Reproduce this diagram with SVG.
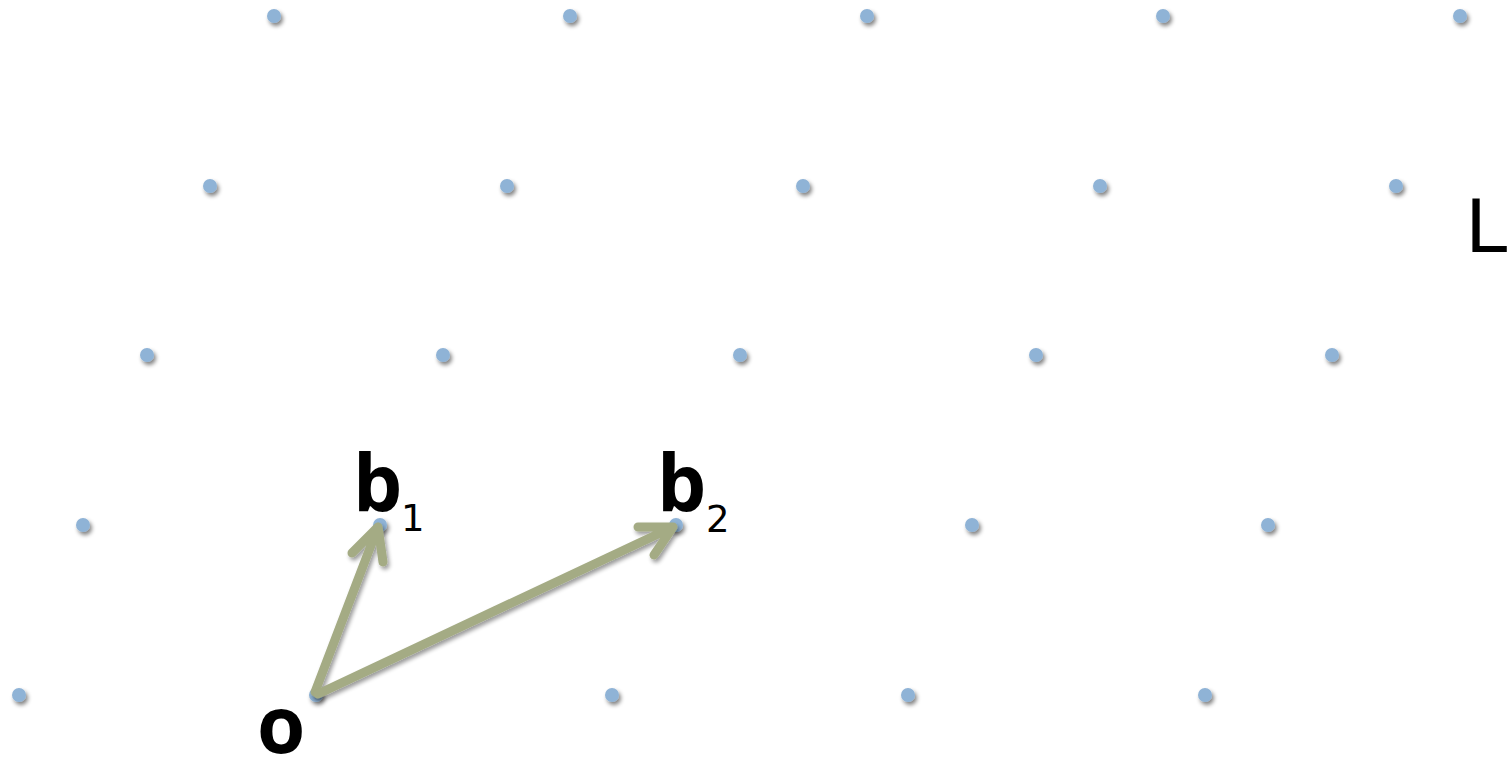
<svg xmlns="http://www.w3.org/2000/svg" width="1508" height="759" viewBox="0 0 1508 759">
<style>
.pt{fill:#8fb3d6;filter:url(#sh)}
.vec{stroke:#a4ab84;stroke-width:9;fill:none;stroke-linecap:round;stroke-linejoin:round;filter:url(#sh2)}
.lbl{font-family:"Open Sans","DejaVu Sans",sans-serif;font-weight:bold;fill:#000}
.sub{font-family:"DejaVu Sans",sans-serif;fill:#000;font-size:37px}
</style>
<defs>
<filter id="sh" x="-100%" y="-100%" width="300%" height="300%">
<feGaussianBlur in="SourceAlpha" stdDeviation="2"/>
<feOffset dx="2" dy="3" result="b"/>
<feComponentTransfer><feFuncA type="linear" slope="0.5"/></feComponentTransfer>
<feMerge><feMergeNode/><feMergeNode in="SourceGraphic"/></feMerge>
</filter>
<filter id="sh2" x="-20%" y="-20%" width="140%" height="140%">
<feGaussianBlur in="SourceAlpha" stdDeviation="2"/>
<feOffset dx="2" dy="3"/>
<feComponentTransfer><feFuncA type="linear" slope="0.4"/></feComponentTransfer>
<feMerge><feMergeNode/><feMergeNode in="SourceGraphic"/></feMerge>
</filter>
</defs>
<rect width="1508" height="759" fill="#fff"/>
<g id="lattice">
<circle class="pt" cx="274" cy="16" r="7"/><circle class="pt" cx="570" cy="16" r="7"/><circle class="pt" cx="867" cy="16" r="7"/><circle class="pt" cx="1163" cy="16" r="7"/><circle class="pt" cx="1460" cy="16" r="7"/>
<circle class="pt" cx="210" cy="186" r="7"/><circle class="pt" cx="507" cy="186" r="7"/><circle class="pt" cx="803" cy="186" r="7"/><circle class="pt" cx="1100" cy="186" r="7"/><circle class="pt" cx="1396" cy="186" r="7"/>
<circle class="pt" cx="147" cy="355" r="7"/><circle class="pt" cx="443" cy="355" r="7"/><circle class="pt" cx="740" cy="355" r="7"/><circle class="pt" cx="1036" cy="355" r="7"/><circle class="pt" cx="1332" cy="355" r="7"/>
<circle class="pt" cx="83" cy="525" r="7"/><circle class="pt" cx="380" cy="525" r="7"/><circle class="pt" cx="676" cy="525" r="7"/><circle class="pt" cx="972" cy="525" r="7"/><circle class="pt" cx="1268" cy="525" r="7"/>
<circle class="pt" cx="19" cy="695" r="7"/><circle class="pt" cx="316" cy="695" r="7"/><circle class="pt" cx="612" cy="695" r="7"/><circle class="pt" cx="908" cy="695" r="7"/><circle class="pt" cx="1205" cy="695" r="7"/>
</g>
<g id="connectors">
<path class="vec" d="M315 692 L378 527 M352 553 L378 527 L383 562"/>
<path class="vec" d="M318 694 L673 527 M638 527 L673 527 L654 555"/>
</g>
<g id="labels">
<text class="lbl" x="353" y="511" font-size="78">b</text>
<text class="sub" x="401" y="531">1</text>
<text class="lbl" x="657" y="511" font-size="78">b</text>
<text class="sub" x="706" y="532">2</text>
<text class="lbl" x="257" y="753" font-size="78">o</text>
<text x="1466" y="252" font-family="'Liberation Sans',Arial,sans-serif" font-size="78" fill="#000">L</text>
</g>
</svg>
